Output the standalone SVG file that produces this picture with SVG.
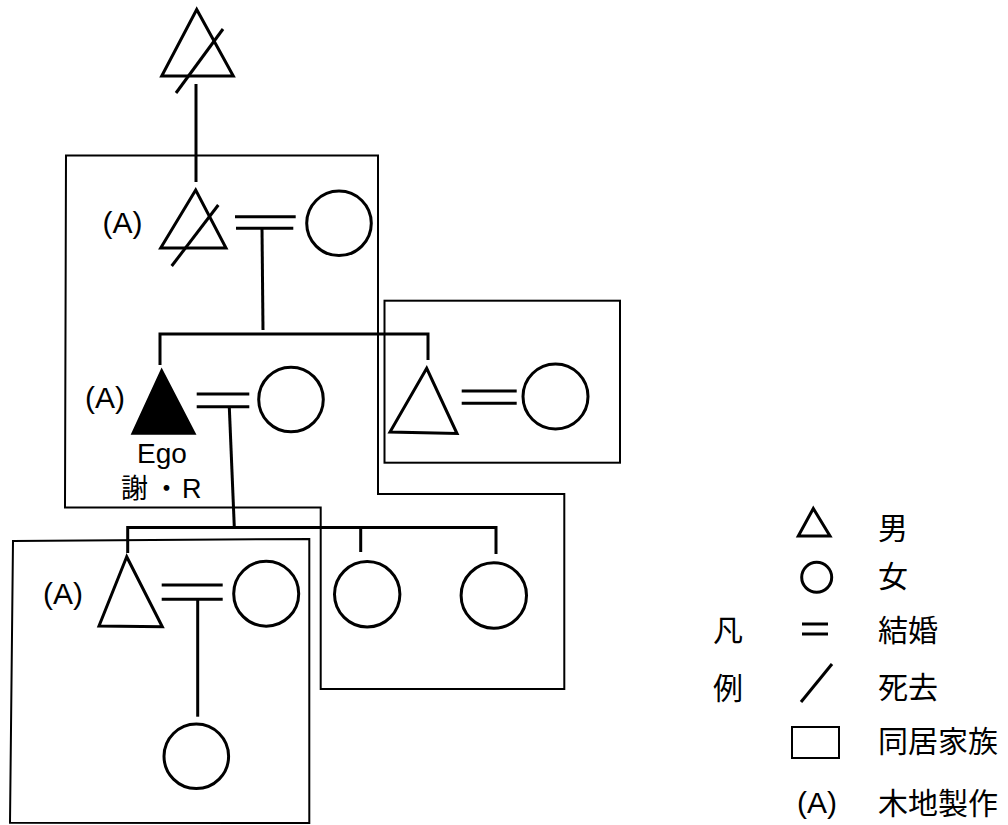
<svg xmlns="http://www.w3.org/2000/svg" width="1008" height="825" viewBox="0 0 1008 825">
<style>
.sym{fill:none;stroke:#000;stroke-width:3;stroke-linejoin:miter}
.filled{fill:#000;stroke:#000;stroke-width:3;stroke-linejoin:miter}
.ln{fill:none;stroke:#000;stroke-width:3;stroke-linecap:butt}
.box{fill:none;stroke:#000;stroke-width:2}
.lat{font-family:"Liberation Sans",Arial,sans-serif;fill:#000}
.cjk{font-family:"Noto Sans CJK JP","Noto Sans CJK SC",sans-serif;fill:#000}
</style>
<rect width="1008" height="825" fill="#fff"/>

<g id="households">
<polygon class="box" points="66,155.5 378,155.5 378,494 564.3,494 564.3,689 320.7,689 320.7,507.5 65,507.5"/>
<rect class="box" x="384.5" y="300.7" width="235.5" height="162"/>
<polygon class="box" points="13,541 309.3,539 309.3,823 10,822.7"/>
</g>

<g id="connectors">
<line class="ln" x1="196" y1="84" x2="196" y2="182"/>
<line class="ln" x1="235" y1="216.7" x2="295.7" y2="216.7"/>
<line class="ln" x1="236" y1="228.3" x2="293.3" y2="228.3"/>
<line class="ln" x1="262" y1="228" x2="263" y2="330"/>
<polyline class="ln" points="160,365 160,334 428,334 428,360"/>
<line class="ln" x1="196.7" y1="394" x2="249.3" y2="394"/>
<line class="ln" x1="196.7" y1="406.7" x2="249.3" y2="406.7"/>
<line class="ln" x1="229.3" y1="407" x2="234.3" y2="527"/>
<line class="ln" x1="461.7" y1="391" x2="516.7" y2="391"/>
<line class="ln" x1="461.7" y1="403.3" x2="516.7" y2="403.3"/>
<polyline class="ln" points="127.7,553 127.7,527.5 496,527.5 496,554"/>
<line class="ln" x1="360.7" y1="527.5" x2="360.7" y2="552"/>
<line class="ln" x1="161.7" y1="585" x2="222.7" y2="585"/>
<line class="ln" x1="161.7" y1="599.3" x2="222.7" y2="599.3"/>
<line class="ln" x1="197.7" y1="599" x2="197.7" y2="716.7"/>
</g>

<g id="grandfather">
<polygon class="sym" points="196.7,9.5 161.7,76 233.3,76"/>
<line class="ln" x1="176" y1="93" x2="223" y2="29"/>
</g>

<g id="father">
<text class="lat" x="102.5" y="233" font-size="30">(A)</text>
<polygon class="sym" points="195.7,190 160.7,248 226,248"/>
<line class="ln" x1="171.7" y1="266" x2="218.3" y2="205"/>
</g>

<g id="mother">
<circle class="sym" cx="339" cy="223.3" r="32.3"/>
</g>

<g id="ego">
<text class="lat" x="85" y="408" font-size="30">(A)</text>
<polygon class="filled" points="161.7,371 133,433.3 194,433.3"/>
<text class="lat" x="162" y="463" font-size="28" text-anchor="middle">Ego</text>
<text y="498" font-size="27"><tspan class="cjk" x="121">謝</tspan><tspan class="cjk" x="153">・</tspan><tspan class="lat" x="182">R</tspan></text>
</g>

<g id="ego-wife">
<circle class="sym" cx="291" cy="399.5" r="32.3"/>
</g>

<g id="brother">
<polygon class="sym" points="426.7,368.3 390,432 457,433.5"/>
</g>

<g id="brother-wife">
<circle class="sym" cx="555.5" cy="396.5" r="32.5"/>
</g>

<g id="son">
<text class="lat" x="43" y="604" font-size="30">(A)</text>
<polygon class="sym" points="126.7,556.7 99,626 162.3,626.7"/>
</g>

<g id="son-wife">
<circle class="sym" cx="266.2" cy="593.7" r="32.5"/>
</g>

<g id="daughter1">
<circle class="sym" cx="367.2" cy="594.2" r="32.7"/>
</g>

<g id="daughter2">
<circle class="sym" cx="493.8" cy="595.5" r="32.7"/>
</g>

<g id="grandchild">
<circle class="sym" cx="196.3" cy="756.3" r="32.3"/>
</g>

<g id="legend">
<polygon class="sym" points="813.3,508.5 798.3,536 830,536"/>
<text class="cjk" x="878" y="539" font-size="30">男</text>
<circle class="sym" cx="816.7" cy="577.3" r="15"/>
<text class="cjk" x="878" y="587" font-size="30">女</text>
<text class="cjk" x="713" y="641" font-size="30">凡</text>
<line class="ln" x1="802" y1="624" x2="828" y2="624"/>
<line class="ln" x1="802" y1="634" x2="828" y2="634"/>
<text class="cjk" x="878" y="641" font-size="30">結婚</text>
<text class="cjk" x="713" y="699" font-size="30">例</text>
<line class="ln" x1="801" y1="702" x2="832" y2="664"/>
<text class="cjk" x="878" y="698" font-size="30">死去</text>
<rect class="box" x="792" y="727" width="47" height="31" stroke-width="3"/>
<text class="cjk" x="878" y="752" font-size="30">同居家族</text>
<text class="lat" x="797" y="813" font-size="30">(A)</text>
<text class="cjk" x="878" y="814" font-size="30">木地製作</text>
</g>
</svg>
